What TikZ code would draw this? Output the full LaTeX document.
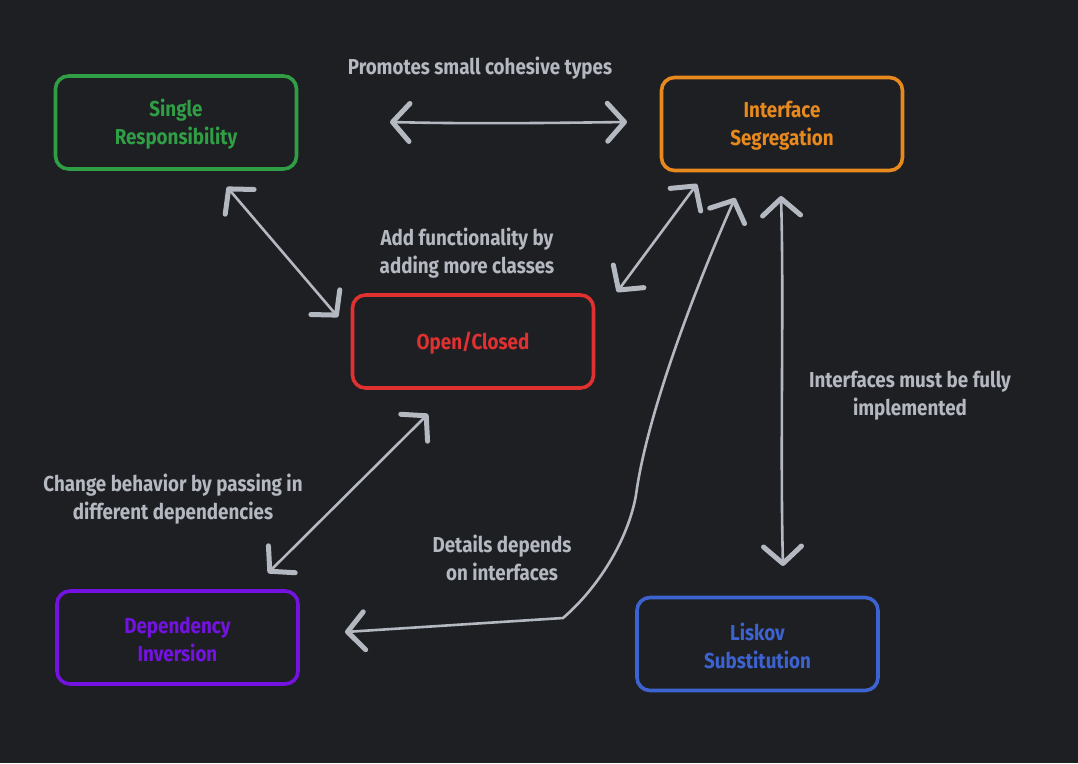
\documentclass[tikz,border=0pt]{standalone}
\usepackage{fontspec}
\setmainfont{Fira Sans}[FakeStretch=0.87]
\usetikzlibrary{arrows.meta}
\definecolor{bgc}{HTML}{1E1F23}
\definecolor{fgc}{HTML}{B4B8C0}
\definecolor{cgreen}{HTML}{2F9E44}
\definecolor{corange}{HTML}{E8891E}
\definecolor{cred}{HTML}{E03131}
\definecolor{cpurple}{HTML}{7412E2}
\definecolor{cblue}{HTML}{3D63D0}
\tikzset{
  box/.style={draw=#1, line width=3.6pt, rounded corners=13pt, minimum width=241pt, minimum height=93pt},
  boxtext/.style={align=center, font=\fontsize{21.6}{28}\selectfont\bfseries, text=#1},
  lbl/.style={align=center, text=fgc, font=\fontsize{21.6}{28}\selectfont\bfseries},
  tipb/.tip={Straight Barb[length=17pt, width=38pt, line width=5pt, round]},
  arr/.style={draw=fgc, line width=2.6pt, line cap=round, {tipb}-{tipb}},
}
\begin{document}
\begin{tikzpicture}[x=1pt,y=-1pt]
\fill[bgc] (0,0) rectangle (1078,763);
\useasboundingbox (0,0) rectangle (1078,763);

\node[box=cgreen] (sr) at (176,122.5) {};
\node[box=corange] (is) at (782,124) {};
\node[box=cred] (oc) at (473,341.5) {};
\node[box=cpurple] (di) at (177.5,637.5) {};
\node[box=cblue] (ls) at (757.5,644) {};

\node[boxtext=cgreen] (srt) at ([yshift=-1.5pt]sr.center) {Single\\Responsibility};
\node[boxtext=corange] (ist) at ([yshift=-2pt]is.center) {Interface\\Segregation};
\node[boxtext=cred] (oct) at ([yshift=-1.5pt]oc.center) {Open/Closed};
\node[boxtext=cpurple] (dit) at ([yshift=-1.5pt]di.center) {Dependency\\Inversion};
\node[boxtext=cblue] (lst) at ([yshift=-2pt]ls.center) {Liskov\\Substitution};

% connector endpoints
\coordinate (a1s) at (390,122);
\coordinate (a1e) at (627,122);
\coordinate (a2s) at (227,187);
\coordinate (a2e) at (338,317);
\coordinate (a3s) at (617,292);
\coordinate (a3e) at (697,184);
\coordinate (a4s) at (428,414);
\coordinate (a4e) at (268,573);
\coordinate (a5s) at (345,632);
\coordinate (a5e) at (735,198);
\coordinate (a6s) at (781,196);
\coordinate (a6e) at (783,566);

\draw[arr] (a1s) .. controls (470,124) and (550,123) .. (a1e);
\draw[arr] (a2s) -- (a2e);
\draw[arr] (a3s) -- (a3e);
\draw[arr] (a4s) -- (a4e);
\draw[arr] (a5s) -- (563,618) .. controls (598,588) and (628,540) .. (636,495) .. controls (646,420) and (690,300) .. (a5e);
\draw[arr] (a6s) .. controls (784,300) and (780,450) .. (a6e);

\node[lbl] (l1) at (480,68) {Promotes small cohesive types};
\node[lbl] (l2) at (467,253) {Add functionality by\\adding more classes};
\node[lbl] (l3) at (910,396) {Interfaces must be fully\\implemented};
\node[lbl] (l4) at (173,499) {Change behavior by passing in\\different dependencies};
\node[lbl] (l5) at (502,558) {Details depends\\on interfaces};
\end{tikzpicture}
\end{document}
